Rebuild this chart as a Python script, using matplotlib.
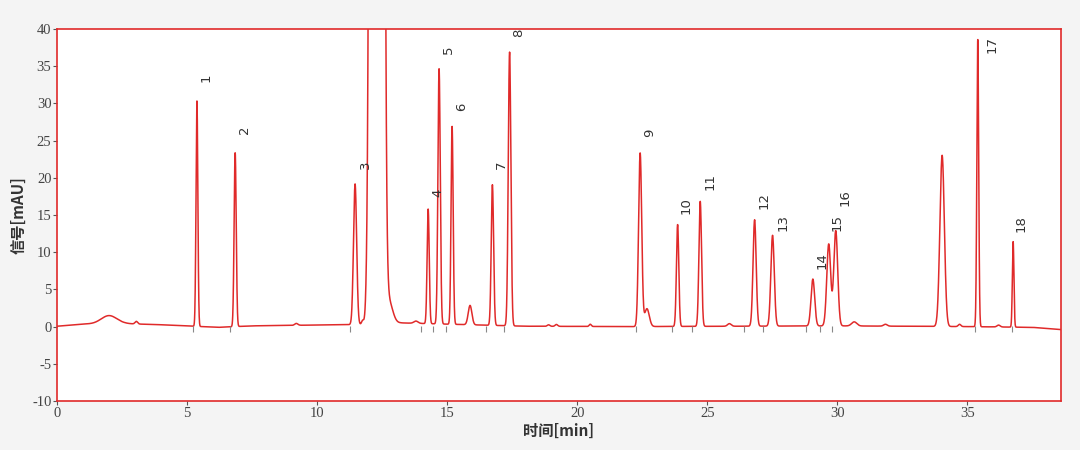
import numpy as np
import matplotlib.pyplot as plt

plt.rcParams['font.family'] = ['Noto Sans CJK SC', 'DejaVu Sans']
plt.rcParams['axes.unicode_minus'] = False

# peak table: retention time [min], height [mAU], sigma [min]
peak_t = [2.0, 3.05, 5.38, 6.85, 9.2, 11.46, 11.75, 11.9, 12.30, 12.75, 13.8,
          14.27, 14.69, 15.19, 15.88, 16.74, 17.40, 18.9, 19.2, 20.5,
          22.42, 22.68, 23.86, 24.73, 25.85, 26.82, 27.51, 29.06, 29.67, 29.94,
          30.65, 31.85, 34.03, 34.7, 35.40, 36.2, 36.76]
peak_h = [1.1, 0.35, 30.3, 23.4, 0.25, 18.9, 0.5, 0.8, 2000.0, 3.0, 0.3,
          15.4, 34.3, 26.6, 2.6, 18.9, 36.8, 0.2, 0.25, 0.3,
          23.3, 2.4, 13.7, 16.8, 0.35, 14.3, 12.2, 6.3, 11.0, 12.8,
          0.55, 0.25, 23.0, 0.3, 38.6, 0.25, 11.5]
peak_s = [0.30, 0.05, 0.035, 0.04, 0.06, 0.06, 0.04, 0.04, 0.122, 0.15, 0.08,
          0.04, 0.045, 0.04, 0.07, 0.045, 0.05, 0.05, 0.05, 0.04,
          0.06, 0.09, 0.045, 0.05, 0.07, 0.06, 0.065, 0.07, 0.075, 0.075,
          0.1, 0.07, 0.085, 0.05, 0.035, 0.06, 0.03]

# baseline drift points (time, mAU)
base_t = [0.0, 1.0, 2.6, 4.0, 6.2, 7.5, 12.0, 13.2, 18.0, 22.0, 30.0, 35.0, 37.5, 38.6]
base_y = [0.05, 0.35, 0.4, 0.25, -0.1, 0.1, 0.3, 0.5, 0.05, 0.0, 0.1, 0.0, -0.1, -0.4]

# numbered peak labels: text, time, height
lab_txt = [str(i) for i in range(1, 19)]
lab_t = [5.73, 7.19, 11.85, 14.65, 15.04, 15.54, 17.1, 17.73, 22.8,
         24.2, 25.1, 27.2, 27.9, 29.4, 30.0, 30.3, 35.96, 37.08]
lab_y = [33.4, 26.4, 21.7, 18.0, 37.2, 29.5, 21.7, 39.5, 26.1,
         16.3, 19.5, 17.0, 14.0, 8.9, 14.0, 17.3, 37.9, 13.9]

# integration marks below baseline
mark_t = [5.22, 6.65, 11.28, 14.0, 14.45, 14.95, 16.5, 17.2, 22.25, 23.65,
          24.4, 26.4, 27.15, 28.8, 29.35, 29.8, 35.3, 36.7]

t = np.linspace(0, 38.6, 8000)
y = np.interp(t, base_t, base_y)
for c, h, s in zip(peak_t, peak_h, peak_s):
    y = y + h * np.exp(-0.5 * ((t - c) / s) ** 2)

red = '#e02a2a'
fig = plt.figure(figsize=(10.8, 4.5), dpi=100, facecolor='#f4f4f4')
ax = fig.add_axes([57 / 1080, 49 / 450, 1004 / 1080, 372 / 450])
ax.set_facecolor('white')
ax.plot(t, y, color=red, linewidth=1.1)
ax.plot(mark_t, [-0.35] * len(mark_t), '|', color='#888888', markersize=4, markeredgewidth=0.8)

for txt, tx, ty in zip(lab_txt, lab_t, lab_y):
    ax.text(tx, ty, txt, rotation=90, ha='center', va='center', fontsize=9.5,
            color='#333333', family='DejaVu Sans')

ax.set_xlim(0, 38.6)
ax.set_ylim(-10, 40)
ax.set_xticks(range(0, 40, 5))
ax.set_yticks(range(-10, 41, 5))
for sp in ax.spines.values():
    sp.set_color(red)
    sp.set_linewidth(1.2)
ax.tick_params(length=3, width=0.8, color='#555555', labelcolor='#444444', labelsize=10.5, pad=1)
for lb in ax.get_xticklabels() + ax.get_yticklabels():
    lb.set_family('Liberation Serif')

ax.set_xlabel('时间[min]', fontsize=11, fontweight='bold', color='#333333', labelpad=2)
ax.set_ylabel('信号[mAU]', fontsize=11, fontweight='bold', color='#333333', labelpad=4)

fig.savefig('out.png', dpi=100, facecolor=fig.get_facecolor())
